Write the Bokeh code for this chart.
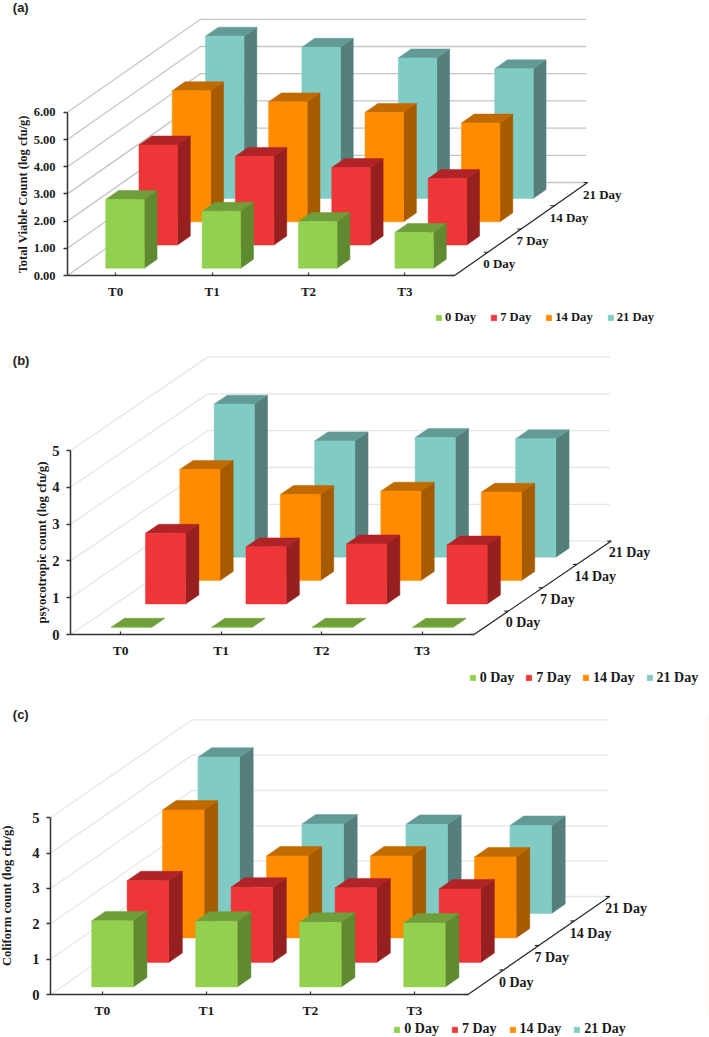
import math
from bokeh.plotting import figure
from bokeh.layouts import column
from bokeh.models import (Range1d, LinearAxis, FixedTicker, NumeralTickFormatter,
                          Legend, LegendItem, ColumnDataSource)
from bokeh.core.properties import value
from bokeh.embed import file_html
from bokeh.resources import INLINE

categories = ["T0", "T1", "T2", "T3"]
days = ["0 Day", "7 Day", "14 Day", "21 Day"]

tvc_0 = [2.53, 2.10, 1.72, 1.32]
tvc_7 = [3.68, 3.26, 2.85, 2.45]
tvc_14 = [4.82, 4.41, 4.02, 3.63]
tvc_21 = [5.97, 5.56, 5.17, 4.77]

psy_0 = [0, 0, 0, 0]
psy_7 = [1.92, 1.55, 1.63, 1.60]
psy_14 = [3.02, 2.34, 2.43, 2.40]
psy_21 = [4.16, 3.16, 3.25, 3.22]

col_0 = [1.87, 1.86, 1.83, 1.81]
col_7 = [2.31, 2.13, 2.11, 2.08]
col_14 = [3.62, 2.32, 2.32, 2.29]
col_21 = [4.42, 2.53, 2.52, 2.49]

FRONT = ["#92D050", "#EE3537", "#FF8C00", "#80CBC4"]
SIDE = ["#5F8A2F", "#962020", "#A65B00", "#547F7B"]
TOP = ["#6F9E3A", "#B02428", "#C06A00", "#629A96"]
SERIF = "Liberation Serif"
SERIF_V = value(SERIF)
INK = "#1a1a1a"
BAR_W = 0.4
BAR_D = 0.385
h_before = {"(a)": 0, "(b)": 335, "(c)": 695}
WIDTH = 709
AXIS_TAIL = 1.5  # px the front axis runs past the last category


def panel(tag, title, series, ymax, fmt, h, x0, y0, w_px, u_px, dx_px, dy_px, fx,
          grid_col, fs_tick, fs_cat, fs_depth, fs_title, fs_leg, title_xy, label_gap,
          depth_off, tag_y, leg_x, leg_cy, leg_spacing, leg_standoff, extra=False):
    yb_page = h_before[tag] + h
    p = figure(width=WIDTH, height=h, output_backend="svg", toolbar_location=None,
               x_range=Range1d(-x0 / w_px, (WIDTH - x0) / w_px),
               y_range=Range1d((y0 - yb_page) / u_px, (y0 - h_before[tag]) / u_px),
               x_axis_type=None, y_axis_type=None,
               min_border_left=0, min_border_right=0, min_border_top=0, min_border_bottom=0)
    p.outline_line_color = None
    p.background_fill_color = "white"
    DX = dx_px / w_px
    DY = dy_px / u_px
    xend = 4 + AXIS_TAIL / w_px

    # walls
    gx, gy = [], []
    for k in range(ymax + 1):
        gx.append([0, DX, 4 + DX])
        gy.append([k, DY + k, DY + k])
    p.multi_line(gx, gy, line_color=grid_col, line_width=1.3)

    # bars, back to front
    legend_items = []
    for s in range(3, -1, -1):
        d0 = (s + fx) / 4
        d1 = d0 + BAR_D / 4
        d0y = (s + 0.31) / 4
        d1y = d0y + BAR_D / 4
        fxs, fys, sxs, sys_, txs, tys = [], [], [], [], [], []
        for c, v in enumerate(series[s]):
            xl = c + 0.5 - BAR_W / 2 + d0 * DX
            xr = xl + BAR_W
            sh = (d1 - d0) * DX
            yb = d0y * DY
            yt = yb + v
            sv = (d1y - d0y) * DY
            fxs.append([xl, xr, xr, xl])
            fys.append([yb, yb, yt, yt])
            sxs.append([xr, xr + sh, xr + sh, xr])
            sys_.append([yb, yb + sv, yt + sv, yt])
            txs.append([xl, xr, xr + sh, xl + sh])
            tys.append([yt, yt, yt + sv, yt + sv])
        p.patches(sxs, sys_, fill_color=SIDE[s], line_color=SIDE[s], line_width=0.5)
        p.patches(txs, tys, fill_color=TOP[s], line_color=TOP[s], line_width=0.5)
        r = p.patches(fxs, fys, fill_color=FRONT[s], line_color=FRONT[s], line_width=0.5)
        legend_items.insert(0, LegendItem(label=days[s], renderers=[r]))

    # depth axis
    p.line([xend, xend + DX], [0, DY], line_color="#222222", line_width=1.2)
    for k in range(5):
        xk = xend + k / 4 * DX
        yk = k / 4 * DY
        p.line([xk - 4 / w_px, xk], [yk, yk], line_color="#222222", line_width=1.2)
    src = ColumnDataSource(dict(
        x=[xend + (k + 0.5) / 4 * DX for k in range(4)],
        y=[(k + 0.5) / 4 * DY for k in range(4)],
        t=days))
    p.text("x", "y", text="t", source=src, x_offset=depth_off, text_align="left",
           text_baseline="middle", text_font=SERIF_V, text_font_style="bold",
           text_font_size=f"{fs_depth}px", text_color=INK)

    # real axes
    ya = LinearAxis(ticker=FixedTicker(ticks=list(range(ymax + 1))), bounds=(0, ymax),
                    formatter=NumeralTickFormatter(format=fmt), fixed_location=0)
    ya.axis_line_color = ya.major_tick_line_color = "#333333"
    ya.axis_line_width = ya.major_tick_line_width = 1.5
    ya.major_tick_in = 0
    ya.major_tick_out = 4
    ya.minor_tick_line_color = None
    ya.major_label_standoff = label_gap
    ya.major_label_text_font = SERIF
    ya.major_label_text_font_style = "bold"
    ya.major_label_text_font_size = f"{fs_tick}px"
    ya.major_label_text_color = INK
    p.add_layout(ya, "left")

    xa = LinearAxis(ticker=FixedTicker(ticks=[0.5, 1.5, 2.5, 3.5]), bounds=(0, xend), fixed_location=0,
                    major_label_overrides={i + 0.5: c for i, c in enumerate(categories)})
    xa.axis_line_color = xa.major_tick_line_color = "#333333"
    xa.axis_line_width = 1.5
    xa.major_tick_line_width = 1.2
    xa.major_tick_in = 3
    xa.major_tick_out = 0
    xa.minor_tick_line_color = None
    xa.major_label_standoff = 8
    xa.major_label_text_font = SERIF
    xa.major_label_text_font_style = "bold"
    xa.major_label_text_font_size = f"{fs_cat}px"
    xa.major_label_text_color = INK
    p.add_layout(xa, "below")

    # axis title
    p.text([(title_xy[0] - x0) / w_px], [(y0 - title_xy[1]) / u_px], text=[title], angle=math.pi / 2,
           text_align="center", text_baseline="middle", text_font=SERIF_V, text_font_style="bold",
           text_font_size=f"{fs_title}px", text_color=INK)

    # legend
    leg = Legend(items=legend_items, orientation="horizontal",
                 location=(leg_x, yb_page - leg_cy - 8),
                 border_line_color=None, background_fill_alpha=0, padding=0, margin=0,
                 glyph_width=7, glyph_height=7, label_standoff=leg_standoff, spacing=leg_spacing,
                 label_text_font=SERIF, label_text_font_style="bold",
                 label_text_font_size=f"{fs_leg}px", label_text_color=INK)
    p.add_layout(leg, "center")

    # panel tag
    p.text([(12.3 - x0) / w_px], [(y0 - tag_y) / u_px], text=[tag],
           text_font=value("Liberation Sans"), text_font_style="bold",
           text_font_size="13px", text_color="#222222",
           text_baseline="middle", text_align="left")
    if extra:
        p.segment([(707 - x0) / w_px], [(y0 - 1015) / u_px], [(707 - x0) / w_px], [(y0 - 715) / u_px],
                  line_color="#fdf6ee", line_width=1.5)
    return p


a = panel("(a)", "Total Viable Count (log cfu/g)", [tvc_0, tvc_7, tvc_14, tvc_21], 6, "0.00", 335,
          67, 275, 96.4, 27.2, 133, 93, 0.28, "#c6c6c6", 12.5, 13, 13, 12.5, 12.6, (22.3, 193.8), 8,
          12, 7, 435, 316.7, 14, 3)
b = panel("(b)", "psyocotropic count (log cfu/g)", [psy_0, psy_7, psy_14, psy_21], 5, "0", 360,
          70, 634, 100.5, 36.8, 137.3, 93.4, 0.306, "#e6e6e6", 14.6, 13.5, 14, 12.85, 14, (41.7, 542), 7,
          14.6, 360, 468.7, 677.7, 11, 4)
c = panel("(c)", "Coliform count (log cfu/g)", [col_0, col_7, col_14, col_21], 5, "0", 342,
          50, 994, 104, 35.34, 141.7, 98, 0.282, "#e6e6e6", 14.6, 13.5, 14, 12.7, 14, (6.7, 895.3), 7,
          13.3, 714, 393.3, 1029.3, 12, 4, extra=True)

page = column(a, b, c, spacing=0)
open("out.html", "w").write(file_html(page, INLINE))
